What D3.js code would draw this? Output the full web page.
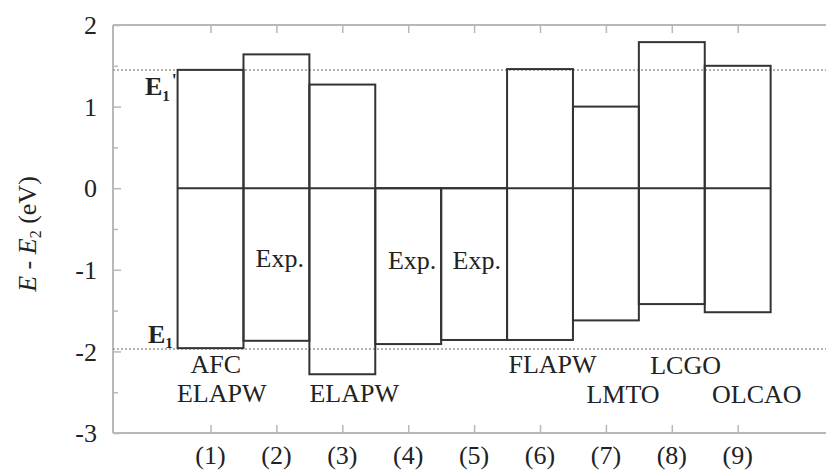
<!DOCTYPE html>
<html><head><meta charset="utf-8">
<script src="https://cdn.jsdelivr.net/npm/d3@7"></script>
<style>
html,body{margin:0;padding:0;background:#fff;}
svg{display:block;font-family:"Liberation Serif","Times New Roman",serif;}
</style></head>
<body><svg id="chart" width="826" height="470"></svg>
<script>
// ---- data ----
const categories = ["(1)","(2)","(3)","(4)","(5)","(6)","(7)","(8)","(9)"];
const e1PrimeLevel = [1.45, 1.64, 1.27, 0, 0, 1.46, 1.00, 1.79, 1.50];   // top of each bar (E1')
const e1Level      = [-1.96, -1.87, -2.28, -1.91, -1.86, -1.86, -1.62, -1.42, -1.52]; // bottom (E1)
const methodNames  = ["AFC", "ELAPW", "Exp.", "ELAPW", "Exp.", "Exp.", "FLAPW", "LMTO", "LCGO", "OLCAO"];
const refE1Prime = 1.45, refE1 = -1.97;
const yTicks = [-3, -2, -1, 0, 1, 2];
const yMinorTicks = [-2.5, -1.5, -0.5, 0.5, 1.5];

// ---- layout (positions / styles) ----
const methodX = [1.08, 1.17, 2.05, 3.18, 4.06, 5.04, 6.19, 7.26, 8.21, 9.29]; // label centre, category units
const methodY = [-2.27, -2.62, -0.97, -2.62, -0.99, -0.99, -2.26, -2.63, -2.28, -2.63]; // baseline, eV

const svg = d3.select("#chart");
const L = 113, R = 826, T = 25, B = 433;
const x = d3.scaleLinear().domain([-0.48, 10.34]).range([L, R]);
const y = d3.scaleLinear().domain([-3, 2]).range([B, T]);
const frame = "#b8b8b8", ink = "#333";
const FS = 26;

// frame: left, top, bottom
svg.append("line").attr("x1",L).attr("x2",L).attr("y1",T).attr("y2",B).attr("stroke",frame).attr("stroke-width",2);
svg.append("line").attr("x1",L).attr("x2",R).attr("y1",T).attr("y2",T).attr("stroke",frame).attr("stroke-width",2);
svg.append("line").attr("x1",L).attr("x2",R).attr("y1",B).attr("y2",B).attr("stroke",frame).attr("stroke-width",2);

// y axis ticks (inward)
const gy = svg.append("g").attr("transform",`translate(${L},0)`)
  .call(d3.axisRight(y).tickValues(yTicks).tickSize(8).tickFormat(""));
gy.select(".domain").remove();
gy.selectAll("line").attr("stroke",frame).attr("stroke-width",1.5);
const gym = svg.append("g").attr("transform",`translate(${L},0)`)
  .call(d3.axisRight(y).tickValues(yMinorTicks).tickSize(5).tickFormat(""));
gym.select(".domain").remove();
gym.selectAll("line").attr("stroke",frame).attr("stroke-width",1.5);
// y tick labels
svg.append("g").selectAll("text").data(yTicks).join("text")
  .attr("x",97).attr("y",d=>y(d)).attr("dy","0.35em").attr("text-anchor","end")
  .attr("font-size",FS).attr("fill","#222").text(d=>d);

// x ticks bottom and top (inward)
const idx = d3.range(1, categories.length + 1);
const gb = svg.append("g").attr("transform",`translate(0,${B})`)
  .call(d3.axisTop(x).tickValues(idx).tickSize(8).tickFormat(""));
gb.select(".domain").remove();
gb.selectAll("line").attr("stroke",frame).attr("stroke-width",1.5);
const gt = svg.append("g").attr("transform",`translate(0,${T})`)
  .call(d3.axisBottom(x).tickValues(idx).tickSize(8).tickFormat(""));
gt.select(".domain").remove();
gt.selectAll("line").attr("stroke",frame).attr("stroke-width",1.5);
// x tick labels
svg.append("g").selectAll("text").data(categories).join("text")
  .attr("x",(d,i)=>x(i+1)).attr("y",464).attr("text-anchor","middle")
  .attr("font-size",FS).attr("fill","#222").text(d=>d);

// dotted reference lines
[refE1Prime, refE1].forEach(v=>{
  svg.append("line").attr("x1",L).attr("x2",R).attr("y1",y(v)).attr("y2",y(v))
    .attr("stroke","#9a9a9a").attr("stroke-width",1.5).attr("stroke-dasharray","2,2");
});

// bars
const bars = idx.map((c,i)=>({c, top:e1PrimeLevel[i], bot:e1Level[i]}));
svg.append("g").selectAll("rect").data(bars).join("rect")
  .attr("x",d=>x(d.c-0.5)).attr("width",d=>x(d.c+0.5)-x(d.c-0.5))
  .attr("y",d=>y(d.top)).attr("height",d=>y(d.bot)-y(d.top))
  .attr("fill","none").attr("stroke",ink).attr("stroke-width",2);
// zero line
svg.append("line").attr("x1",x(0.5)).attr("x2",x(categories.length+0.5))
  .attr("y1",y(0)).attr("y2",y(0)).attr("stroke",ink).attr("stroke-width",2);

// method labels
svg.append("g").selectAll("text").data(methodNames).join("text")
  .attr("x",(d,i)=>x(methodX[i])).attr("y",(d,i)=>y(methodY[i]))
  .attr("text-anchor","middle").attr("font-size",FS).attr("fill","#222").text(d=>d);

// E1' and E1 labels
const e1p = svg.append("text").attr("x",145).attr("y",95).attr("font-size",FS).attr("font-weight","bold").attr("fill","#222");
e1p.append("tspan").text("E");
e1p.append("tspan").attr("font-size",15).attr("dy",6).text("1");
e1p.append("tspan").attr("font-size",18).attr("dy",-14).attr("dx",2).text("'");
const e1 = svg.append("text").attr("x",148).attr("y",343).attr("font-size",FS).attr("font-weight","bold").attr("fill","#222");
e1.append("tspan").text("E");
e1.append("tspan").attr("font-size",15).attr("dy",5).text("1");

// y axis title
const yt = svg.append("text").attr("transform","translate(36,234) rotate(-90)")
  .attr("text-anchor","middle").attr("font-size",FS).attr("fill","#222");
yt.append("tspan").attr("font-style","italic").text("E");
yt.append("tspan").text(" - ");
yt.append("tspan").attr("font-style","italic").text("E");
yt.append("tspan").attr("font-size",16).attr("dy",5).text("2");
yt.append("tspan").attr("dy",-5).text(" (eV)");
</script></body></html>
